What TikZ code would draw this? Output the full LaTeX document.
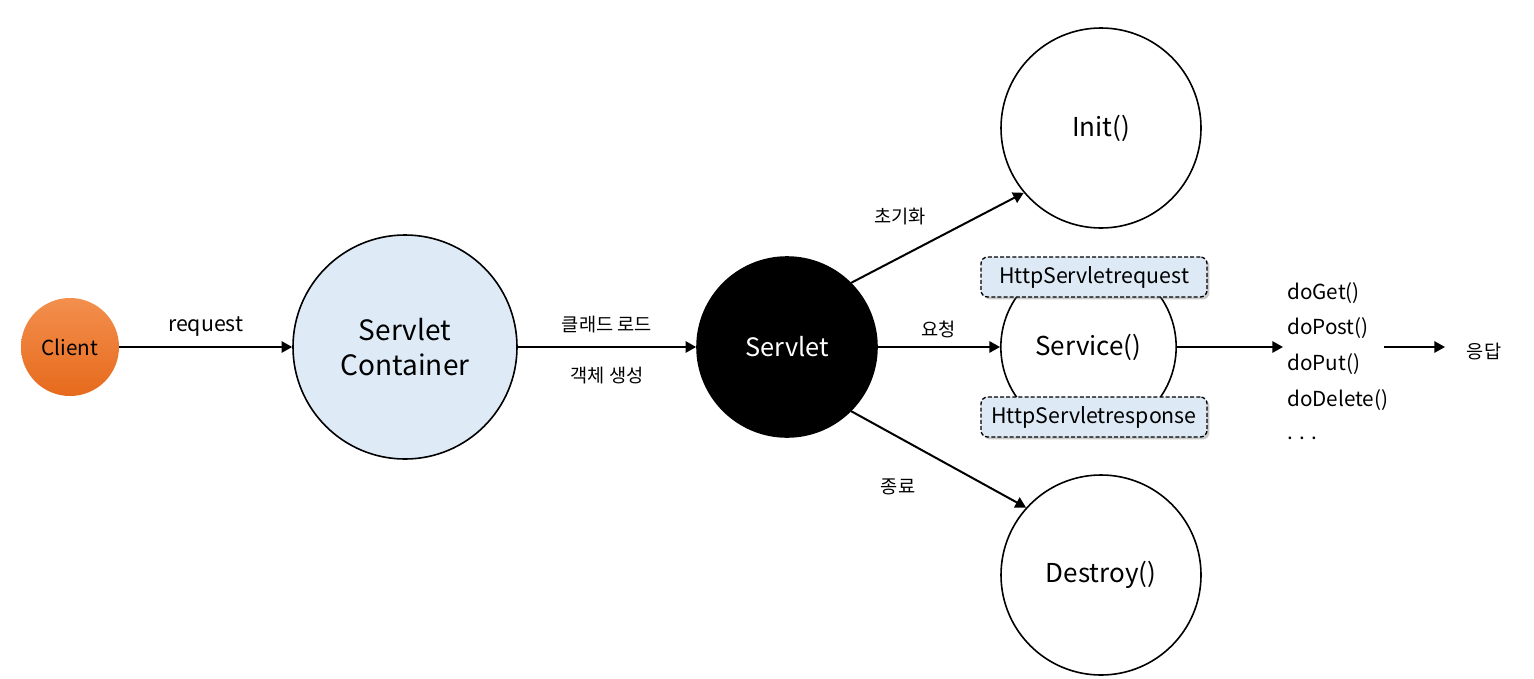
\documentclass[tikz,border=0pt]{standalone}
\usepackage{fontspec}
\setmainfont{Noto Sans CJK KR}
\usetikzlibrary{arrows.meta,shadows}
\definecolor{contblue}{RGB}{222,235,247}
\definecolor{boxblue}{RGB}{221,233,245}
\definecolor{orTop}{RGB}{243,143,78}
\definecolor{orBot}{RGB}{230,106,28}
\tikzset{
  arr/.style={line width=1.5pt, -{Triangle[length=8pt,width=8.5pt]}},
  lbl/.style={font=\fontsize{14}{16}\selectfont, inner sep=0pt},
  mth/.style={font=\fontsize{15.5}{18}\selectfont, inner sep=0pt, anchor=west},
  circ/.style={circle, draw, line width=1.2pt, inner sep=0pt, fill=white},
  big/.style={font=\fontsize{19.5}{22}\selectfont},
  dbox/.style={draw, dash pattern=on 3pt off 1.6pt, rounded corners=5pt, fill=boxblue,
    line width=1pt, minimum width=169.5pt, minimum height=30pt, inner sep=0pt,
    font=\fontsize{16}{18}\selectfont,
    drop shadow={shadow xshift=1.8pt, shadow yshift=-1.8pt, opacity=0.35, fill=black!60}},
}
\begin{document}
\begin{tikzpicture}[x=0.75pt,y=-0.75pt]
\useasboundingbox (0,0) rectangle (1534,678);
% nodes
\node[circle, minimum size=73.5pt, inner sep=0pt, top color=orTop, bottom color=orBot,
  font=\fontsize{15.5}{18}\selectfont] (client) at (70,347) {Client};
\node[circ, fill=contblue, minimum size=168pt, align=center,
  font=\fontsize{21}{26}\selectfont] (cont) at (405,347) {Servlet\\Container};
\node[circ, fill=black, minimum size=135pt, text=white,
  font=\fontsize{19}{22}\selectfont] (servlet) at (787,347) {Servlet};
\node[circ, big, minimum size=150pt] (init) at (1101,128) {Init()};
\node[circ, big, minimum size=131.5pt] (service) at (1088.5,347) {Service()};
\node[circ, big, minimum size=150pt] (destroy) at (1101,575) {Destroy()};
\node[dbox] (hreq) at (1094,277) {HttpServletrequest};
\node[dbox] (hres) at (1094,417) {HttpServletresponse};
% method list
\node[mth] (doget) at (1287,293) {doGet()};
\node[mth] (dopost) at (1287,328) {doPost()};
\node[mth] (doput) at (1287,364) {doPut()};
\node[mth] (dodelete) at (1287,400) {doDelete()};
\node[mth] (dots) at (1287,438) {. . .};
\node[lbl] (resp) at (1484,352) {응답};
\coordinate (listin) at (1283,347);
\coordinate (listout) at (1384,347);
\coordinate (respin) at (1445,347);
% connectors
\draw[arr] (client) -- (cont) node[midway, above=7pt, inner sep=0pt,
  font=\fontsize{16}{18}\selectfont] (lreq) {request};
\draw[arr] (cont) -- (servlet)
  node[lbl, midway, above=10pt] (lload) {클래드 로드}
  node[lbl, midway, below=14pt] (lobj) {객체 생성};
\draw[arr] (servlet.45) -- (init.220);
\node[lbl] (linit) at (900,217) {초기화};
\draw[arr] (servlet) -- (service) node[lbl, midway, above=6pt] (lsvc) {요청};
\draw[arr] (servlet.-45) -- (destroy.138);
\node[lbl] (ldes) at (898,487) {종료};
\draw[arr] (service) -- (listin);
\draw[arr] (listout) -- (respin);
\end{tikzpicture}
\end{document}
